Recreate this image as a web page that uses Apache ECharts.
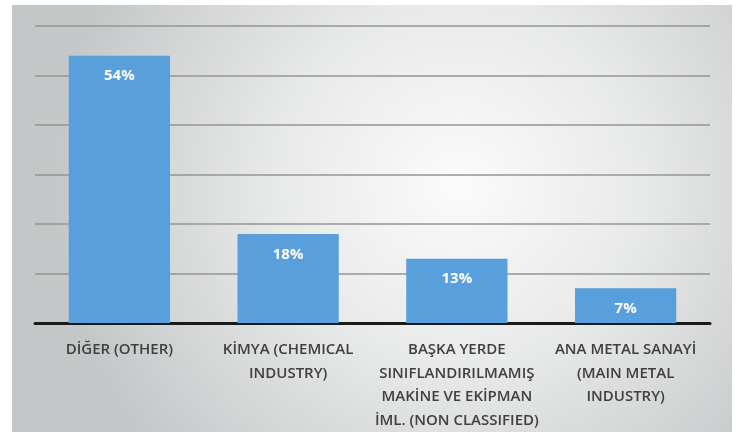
<!DOCTYPE html>
<html>
<head>
<meta charset="utf-8">
<script src="https://cdn.jsdelivr.net/npm/echarts@6/dist/echarts.min.js"></script>
<style>
  html, body { margin: 0; padding: 0; background: #fff; }
  #chart { width: 745px; height: 435px; }
</style>
</head>
<body>
<div id="chart"></div>
<script>
// sector shares (%)
const categories = [
    'DİĞER (OTHER)',
    'KİMYA (CHEMICAL\nINDUSTRY)',
    'BAŞKA YERDE\nSINIFLANDIRILMAMIŞ\nMAKİNE VE EKİPMAN\nİML. (NON CLASSIFIED)',
    'ANA METAL SANAYİ\n(MAIN METAL\nINDUSTRY)'
];
const shares = [54, 18, 13, 7];
const axisMax = 60;
const axisStep = 10;

let chart = echarts.init(document.getElementById('chart'));

let option = {
    animation: false,
    graphic: [{
        type: 'rect',
        z: -10,
        shape: { x: 12, y: 5, width: 720, height: 427 },
        style: {
            fill: {
                type: 'radial',
                x: 0.62,
                y: 0.42,
                r: 0.95,
                colorStops: [
                    { offset: 0, color: '#fbfbfb' },
                    { offset: 0.45, color: '#e8e9e9' },
                    { offset: 1, color: '#c4c7c8' }
                ]
            }
        }
    }],
    grid: {
        left: 35,
        right: 35,
        top: 26,
        bottom: 112,
        containLabel: false
    },
    xAxis: {
        type: 'category',
        data: categories,
        axisLine: {
            lineStyle: { color: '#1a1a1a', width: 3 }
        },
        axisTick: { show: false },
        axisLabel: {
            interval: 0,
            margin: 15,
            color: '#404040',
            fontFamily: 'Open Sans',
            fontSize: 15,
            fontWeight: 600,
            lineHeight: 23.5
        }
    },
    yAxis: {
        type: 'value',
        min: 0,
        max: axisMax,
        interval: axisStep,
        axisLine: { show: false },
        axisTick: { show: false },
        axisLabel: { show: false },
        splitLine: {
            show: true,
            lineStyle: { color: '#959595', width: 1.5 }
        }
    },
    series: [{
        type: 'bar',
        data: shares,
        barWidth: '60%',
        itemStyle: { color: '#589fdb' },
        label: {
            show: true,
            position: 'insideTop',
            distance: 13,
            color: '#ffffff',
            fontFamily: 'Open Sans',
            fontSize: 15,
            fontWeight: 'bold',
            formatter: function(p) {
                return p.value + '%';
            }
        }
    }]
};
chart.setOption(option, true);
</script>
</body>
</html>
